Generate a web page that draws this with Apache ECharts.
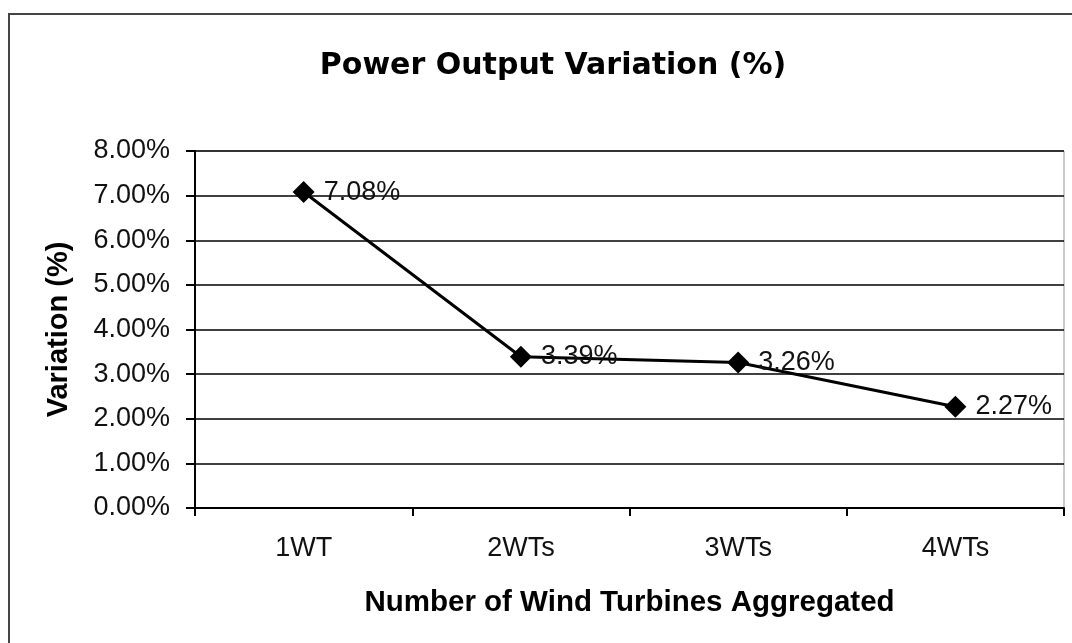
<!DOCTYPE html>
<html>
<head>
<meta charset="utf-8">
<script src="https://cdn.jsdelivr.net/npm/echarts@6/dist/echarts.min.js"></script>
<style>
html,body{margin:0;padding:0;background:#fff;}
#c{width:1072px;height:643px;}
</style>
</head>
<body>
<div id="c"></div>
<script>
var categories = ['1WT', '2WTs', '3WTs', '4WTs'];
var variation = [7.08, 3.39, 3.26, 2.27];
var yMin = 0, yMax = 8, yStep = 1;

var chart = echarts.init(document.getElementById('c'), null, {renderer: 'canvas'});
chart.setOption({
  backgroundColor: '#ffffff',
  animation: false,
  title: {
    text: 'Power Output Variation (%)',
    left: 548,
    textAlign: 'center',
    top: 46,
    textStyle: {fontFamily: 'DejaVu Sans', fontWeight: 'bold', fontSize: 30, color: '#000'}
  },
  graphic: [{
    type: 'rect',
    shape: {x: 9, y: 14, width: 1100, height: 700},
    style: {fill: 'none', stroke: '#444', lineWidth: 2},
    silent: true
  }],
  grid: {
    left: 195, right: 8, top: 151, bottom: 135,
    show: true, borderColor: '#999', borderWidth: 1, backgroundColor: 'transparent'
  },
  xAxis: {
    type: 'category',
    data: categories,
    boundaryGap: true,
    name: 'Number of Wind Turbines Aggregated',
    nameLocation: 'middle',
    nameGap: 80,
    nameTextStyle: {fontFamily: 'Liberation Sans', fontWeight: 'bold', fontSize: 29.5, color: '#000'},
    axisLine: {lineStyle: {color: '#000', width: 2}},
    axisTick: {show: true, alignWithLabel: false, length: 8, lineStyle: {color: '#000', width: 2}},
    axisLabel: {fontFamily: 'Liberation Sans', fontSize: 27, color: '#111', margin: 27},
    splitLine: {show: false}
  },
  yAxis: {
    type: 'value',
    min: yMin, max: yMax, interval: yStep,
    name: 'Variation (%)',
    nameLocation: 'middle',
    nameGap: 122,
    nameTextStyle: {fontFamily: 'Liberation Sans', fontWeight: 'bold', fontSize: 29, color: '#000'},
    axisLine: {show: true, lineStyle: {color: '#000', width: 2}},
    axisTick: {show: true, inside: false, length: 9, lineStyle: {color: '#000', width: 2}},
    axisLabel: {
      fontFamily: 'Liberation Sans', fontSize: 27, color: '#111', margin: 25,
      formatter: function (v) { return v.toFixed(2) + '%'; }
    },
    splitLine: {show: true, lineStyle: {color: '#000', width: 1.5}}
  },
  series: [{
    type: 'line',
    data: variation,
    symbol: 'diamond',
    symbolSize: 22,
    itemStyle: {color: '#000'},
    lineStyle: {color: '#000', width: 3},
    label: {
      show: true, position: 'right', distance: 9,
      fontFamily: 'Liberation Sans', fontSize: 27, color: '#111',
      formatter: function (p) { return p.value.toFixed(2) + '%'; }
    }
  }]
});
</script>
</body>
</html>
